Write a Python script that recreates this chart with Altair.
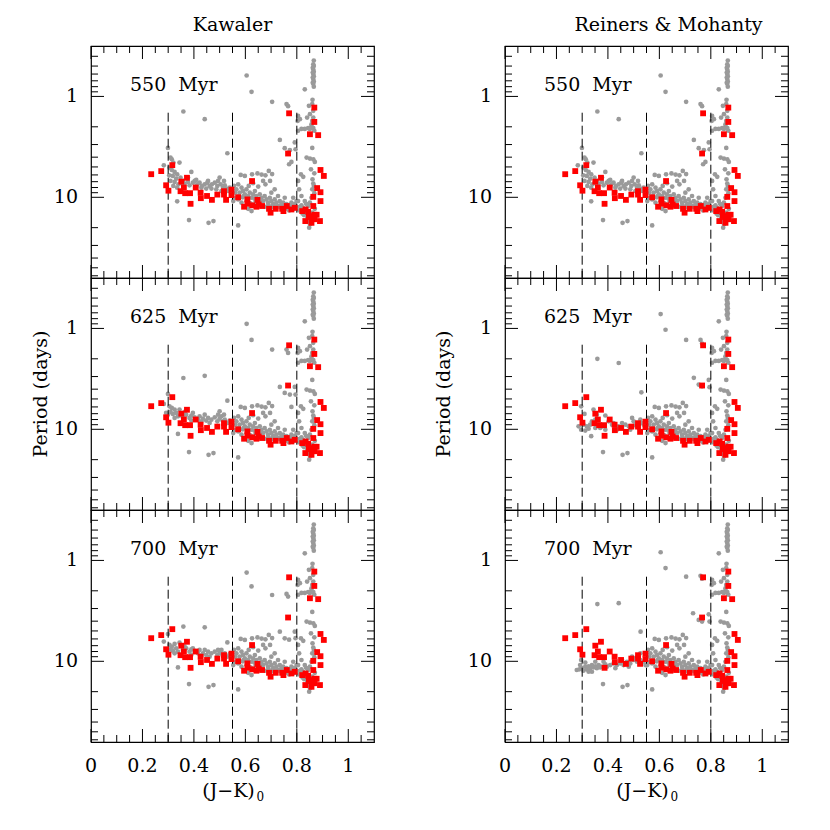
import altair as alt
import pandas as pd

FONT = "DejaVu Serif"
W, H = 283, 232

# ---------------- observed stars (red squares, same in every panel) -------------
red_jk = [0.234,0.273,0.316,0.292,0.301,0.351,0.373,0.361,0.348,0.366,
          0.385,0.407,0.387,0.426,0.427,0.451,0.470,0.491,0.517,0.517,
          0.546,0.546,0.525,0.572,0.626,0.595,0.608,0.608,0.627,0.647,
          0.652,0.643,0.665,0.692,0.698,0.718,0.743,0.748,0.761,0.770,
          0.766,0.779,0.792,0.821,0.834,0.833,0.847,0.851,0.868,0.868,
          0.883,0.864,0.864,0.868,0.855,0.857,0.877,0.892,0.905,0.879,
          0.892,0.892,0.890,0.844,0.869]
red_p = [5.9,5.5,4.8,7.6,8.6,7.0,6.4,8.0,8.7,9.1,
         9.1,8.0,11.6,9.0,10.2,9.7,10.6,9.4,8.7,9.4,
         8.4,9.5,10.6,10.0,6.9,12.4,10.5,11.6,12.0,10.6,
         11.8,12.4,12.2,13.0,14.2,13.0,13.0,13.7,12.2,1.47,
         3.68,13.2,12.7,13.7,13.2,17.2,15.3,2.37,1.29,1.79,
         2.42,9.9,12.2,14.9,15.7,17.9,14.9,5.36,6.14,8.1,
         8.9,10.9,17.2,13.9,16.5]

# ---------------- model stars shared by all panels (gray) ----------------
band_jk = [0.556,0.565,0.572,0.578,0.585,0.591,0.598,0.604,0.611,0.617,
           0.624,0.630,0.637,0.643,0.650,0.656,0.663,0.669,0.675,0.682,
           0.688,0.695,0.701,0.708,0.714,0.721,0.727,0.734,0.740,0.747,
           0.753,0.760,0.766,0.773,0.779,0.786,0.792,0.611,0.624,0.585,
           0.572,0.559,0.561,0.553,0.582,0.598,0.626,0.647,0.663,0.678,
           0.691,0.704,0.696,0.678,0.650,0.630,0.613,0.669,0.714,0.701,
           0.727,0.753,0.786,0.799,0.590,0.605,0.620,0.640,0.660,0.680,
           0.700,0.720,0.745,0.770,0.575,0.595,0.635,0.655,0.690,0.710,
           0.735,0.755,0.790]
band_p = [7.72,8.34,7.43,9.0,8.02,8.66,9.34,8.34,9.71,9.0,
          10.1,9.34,8.66,9.71,10.5,9.34,10.1,10.9,9.71,10.5,
          11.3,10.1,10.9,11.7,10.5,11.3,12.2,10.9,11.7,11.3,
          12.2,11.7,12.7,12.0,11.3,12.4,11.7,13.0,13.7,11.3,
          10.5,10.1,9.0,10.9,6.0,6.14,5.92,5.8,5.95,6.05,
          5.48,5.88,6.88,7.43,7.83,7.26,7.72,6.88,8.34,9.0,
          9.71,10.1,10.1,10.9,10.0,10.8,11.5,11.0,12.0,12.4,
          12.6,12.8,13.2,13.5,9.7,9.6,10.3,11.0,11.9,12.0,
          12.5,13.0,13.0]

right_jk = [0.805,0.818,0.809,0.805,0.816,0.825,0.818,0.831,0.844,0.851,
            0.831,0.838,0.857,0.844,0.848,0.860,0.870,0.860,0.838,0.851,
            0.864,0.870,0.855,0.868,0.861,0.864,0.866,0.860,0.868,0.857,
            0.810,0.822,0.840,0.852,0.812,0.825,0.836,0.828,0.842,0.850]
right_p = [10.9,9.71,8.34,6.88,5.92,6.26,12.0,10.9,12.2,11.3,
           13.2,14.2,16.6,17.2,20.0,14.2,13.0,3.24,4.04,4.13,
           4.2,4.46,5.28,5.78,6.63,7.3,7.72,8.34,9.1,10.1,
           13.5,14.5,15.5,18.5,12.4,12.8,11.6,15.0,16.0,14.8]

column_jk = [0.866,0.864,0.866,0.864,0.866,0.864,0.866,0.864,0.866,0.864,
             0.866,0.862,0.862,0.862,0.862,0.861,0.860,0.864,0.851,0.840,
             0.864,0.857,0.844,0.831,0.818,0.805,0.851,0.864,0.868,0.857,
             0.860,0.831,0.847,0.805,0.812,0.803,0.381,0.457,0.476,0.572]
column_p = [0.44,0.48,0.50,0.54,0.57,0.60,0.63,0.67,0.71,0.75,
            0.80,0.52,0.58,0.65,0.73,1.08,1.19,1.39,1.50,1.62,
            1.62,1.99,2.06,2.10,2.10,2.19,2.10,2.06,2.19,1.89,
            1.75,0.85,1.24,1.56,1.68,1.75,16.8,17.9,17.2,19.0]

# ---------------- panel-specific model stars ----------------
k550_jk = [0.283,0.299,0.309,0.314,0.320,0.305,0.314,0.325,0.304,0.318,
           0.335,0.344,0.331,0.309,0.325,0.340,0.351,0.320,0.335,0.357,
           0.364,0.377,0.390,0.383,0.396,0.403,0.413,0.422,0.431,0.442,
           0.452,0.461,0.470,0.481,0.491,0.500,0.504,0.513,0.520,0.526,
           0.533,0.539,0.546,0.507,0.487,0.468,0.448,0.429,0.409,0.335,
           0.517,0.494,0.455,0.409,0.377,0.348,
           0.605,0.624,0.359,0.442,0.530,0.704,0.760,0.766,0.734,0.753,
           0.773,0.792,0.795,0.779,0.770]
k550_p = [4.82,3.24,4.04,4.20,4.53,5.08,5.36,5.6,6.05,6.14,
          5.92,4.53,6.53,6.88,7.04,7.43,7.16,7.72,8.02,6.88,
          7.3,7.04,5.6,7.6,7.16,6.88,7.43,7.16,7.72,7.43,
          7.16,7.72,7.43,7.16,7.72,6.38,7.43,8.02,7.6,8.2,
          8.66,8.02,8.85,8.66,8.34,8.2,8.2,8.02,7.85,10.95,
          6.88,6.88,6.88,6.73,6.38,6.38,
          0.62,0.90,1.41,1.68,3.66,1.13,1.19,1.25,2.70,3.26,
          3.41,2.86,3.34,4.46,4.70]

k625_jk = [0.299,0.283,0.305,0.314,0.325,0.309,0.318,0.331,0.338,0.325,
           0.348,0.357,0.370,0.383,0.390,0.403,0.416,0.422,0.435,0.448,
           0.455,0.468,0.481,0.491,0.500,0.507,0.513,0.520,0.530,0.539,
           0.546,0.338,0.299,0.292,0.344,0.364,0.396,0.442,0.494,0.461,
           0.429,0.390,0.500,0.517,
           0.605,0.624,0.359,0.442,0.530,0.704,0.760,0.766,0.734,0.753,
           0.773,0.792,0.795,0.779]
k625_p = [4.46,5.6,5.92,6.14,6.38,6.73,7.04,6.88,7.43,7.72,
          7.16,7.6,7.16,7.72,7.3,7.6,8.02,7.43,7.85,8.2,
          7.72,8.02,7.6,8.34,7.85,7.43,8.34,8.02,8.66,8.2,
          9.0,11.1,7.16,6.88,6.38,6.73,6.88,7.16,7.16,8.66,
          8.34,8.2,6.63,7.16,
          0.90,1.30,3.1,2.95,5.2,1.62,1.62,1.75,3.8,4.36,
          4.53,3.8,4.53,6.0]

k700_jk = [0.299,0.283,0.305,0.314,0.325,0.309,0.318,0.331,0.338,0.325,
           0.348,0.357,0.370,0.383,0.390,0.403,0.416,0.422,0.435,0.448,
           0.455,0.468,0.481,0.491,0.500,0.507,0.513,0.520,0.530,0.539,
           0.546,0.338,0.301,0.344,0.364,0.396,0.442,0.494,0.461,0.429,
           0.390,0.504,
           0.605,0.624,0.359,0.442,0.530,0.704,0.760,0.766,0.734,0.753,
           0.770,0.792,0.795]
k700_p = [5.36,6.38,6.88,7.16,6.73,7.6,7.85,7.43,8.02,8.34,
          6.88,7.72,7.43,8.02,7.6,8.02,8.34,7.72,8.34,8.66,
          8.02,8.34,8.02,8.66,8.2,7.72,8.85,8.34,9.0,8.5,
          9.34,11.5,8.34,6.53,7.16,7.43,7.72,7.72,9.0,8.85,
          8.66,8.34,
          1.32,1.81,4.53,4.6,6.5,2.2,2.15,2.28,5.08,5.92,
          6.1,5.08,5.9]

r550_jk = list(k550_jk)
r550_p = list(k550_p)

r625_jk = [0.296,0.286,0.296,0.305,0.312,0.318,0.325,0.331,0.338,0.344,
           0.351,0.364,0.377,0.390,0.403,0.416,0.429,0.442,0.455,0.468,
           0.481,0.494,0.500,0.507,0.520,0.530,0.539,0.546,0.335,0.390,
           0.455,0.487,0.513,0.526,0.351,0.370,0.422,0.435,0.309,0.357,
           0.605,0.624,0.359,0.442,0.530,0.704,0.760,0.766,0.734,0.753,
           0.766,0.792,0.795]
r625_p = [5.92,9.34,10.1,9.0,10.3,9.34,9.85,9.0,8.34,6.38,
          8.02,9.0,9.34,7.3,8.34,9.0,9.71,9.34,9.71,9.0,
          9.34,7.72,8.34,9.13,9.71,8.66,9.0,9.71,11.7,10.1,
          8.66,10.1,8.66,8.02,9.71,9.71,8.66,10.1,7.04,7.16,
          0.72,1.03,2.0,2.2,4.3,1.30,1.30,1.41,3.09,3.60,
          3.75,3.24,3.82]

r700_jk = [0.279,0.289,0.299,0.305,0.312,0.318,0.325,0.331,0.338,0.344,
           0.351,0.357,0.364,0.377,0.390,0.396,0.409,0.422,0.435,0.448,
           0.461,0.474,0.487,0.500,0.513,0.526,0.539,0.546,0.338,0.296,
           0.351,0.383,0.455,0.494,0.507,0.526,0.481,0.429,0.292,0.325,
           0.312,0.370,
           0.605,0.624,0.359,0.442,0.527,0.704,0.760,0.766,0.731,0.753,
           0.766,0.792,0.795]
r700_p = [12.2,12.0,11.7,12.4,11.3,12.0,11.2,11.7,10.9,11.5,
          11.2,11.7,10.9,11.3,10.7,11.3,10.9,10.5,10.9,10.5,
          10.9,10.1,10.5,9.71,10.1,9.71,10.1,10.9,12.7,9.71,
          10.1,10.1,9.71,9.0,9.34,8.34,11.3,11.7,10.9,12.7,
          10.3,11.5,
          0.83,1.19,2.71,2.65,5.08,1.45,1.42,1.52,3.34,3.89,
          4.04,3.42,4.04]

ages = ["550\u00a0 Myr", "625\u00a0 Myr", "700\u00a0 Myr"]
col_titles = ["Kawaler", "Reiners & Mohanty"]
x_title = "(J\u2212K)"
x_title_sub = "0"
y_title = "Period (days)"

dash_jk = [0.3, 0.55, 0.8]
dash_top = 1.45
x_label_vals = [0, 0.2, 0.4, 0.6, 0.8, 1]
x_label_txt = ["0", "0.2", "0.4", "0.6", "0.8", "1"]
y_label_vals = [1, 10]
y_label_txt = ["1", "10"]
x_major = [0, 0.2, 0.4, 0.6, 0.8, 1.0]
x_minor = [0.05, 0.1, 0.15, 0.25, 0.3, 0.35, 0.45, 0.5, 0.55, 0.65, 0.7, 0.75,
           0.85, 0.9, 0.95, 1.05]
y_major = [1, 10]
y_minor = [0.4, 0.5, 0.6, 0.7, 0.8, 0.9, 2, 3, 4, 5, 6, 7, 8, 9, 20, 30, 40, 50, 60]

Y_LO, Y_HI = 10 ** -0.5, 10 ** 1.8
xs = alt.Scale(domain=[0, 1.1], nice=False, zero=False)
ys = alt.Scale(type="log", domain=[Y_LO, Y_HI], reverse=True, nice=False)

MAJ, MIN = 13, 7
FS = 19
TXT = dict(font=FONT, fontSize=FS, color="black")


def X(f):
    return alt.X(f, scale=xs, axis=None)


def Y(f):
    return alt.Y(f, scale=ys, axis=None)


def xticks(vals, L):
    base = alt.Chart(pd.DataFrame({"v": vals})).mark_rule(color="black", strokeWidth=1)
    top = base.encode(x=X("v:Q"), y=alt.value(0), y2=alt.value(L))
    bot = base.encode(x=X("v:Q"), y=alt.value(H), y2=alt.value(H - L))
    return [top, bot]


def yticks(vals, L):
    base = alt.Chart(pd.DataFrame({"v": vals})).mark_rule(color="black", strokeWidth=1)
    left = base.encode(y=Y("v:Q"), x=alt.value(0), x2=alt.value(L))
    right = base.encode(y=Y("v:Q"), x=alt.value(W), x2=alt.value(W - L))
    return [left, right]


def single_text(t, size=FS, **kw):
    return alt.Chart(pd.DataFrame({"t": [t]})).mark_text(
        font=FONT, fontSize=size, color="black", **kw).encode(text="t:N")


def panel(own_jk, own_p, row, col):
    gjk = band_jk + right_jk + column_jk + own_jk
    gp = band_p + right_p + column_p + own_p
    gray_df = pd.DataFrame({"jk": gjk, "p": gp})
    red_df = pd.DataFrame({"jk": red_jk, "p": red_p})

    gray = alt.Chart(gray_df).mark_circle(size=22, color="#9a9a9a", opacity=1).encode(
        x=X("jk:Q"), y=Y("p:Q"))
    red = alt.Chart(red_df).mark_square(size=34, color="#ff0000", opacity=1).encode(
        x=X("jk:Q"), y=Y("p:Q"))
    dash_df = pd.DataFrame({"jk": dash_jk, "top": [dash_top] * 3, "bot": [Y_HI] * 3})
    dashed = alt.Chart(dash_df).mark_rule(color="black", strokeWidth=1, strokeDash=[9, 4]).encode(
        x=X("jk:Q"), y=Y("top:Q"), y2="bot:Q")
    label = single_text(ages[row], align="left", baseline="alphabetic").encode(
        x=alt.value(39), y=alt.value(45))

    ylab = alt.Chart(pd.DataFrame({"v": y_label_vals, "t": y_label_txt})).mark_text(
        align="right", baseline="middle", **TXT).encode(
        y=Y("v:Q"), x=alt.value(-13), text="t:N")

    layers = [gray, dashed, red] + xticks(x_major, MAJ) + xticks(x_minor, MIN) \
        + yticks(y_major, MAJ) + yticks(y_minor, MIN) + [label, ylab]

    if row == 2:
        xlab = alt.Chart(pd.DataFrame({"v": x_label_vals, "t": x_label_txt})).mark_text(
            align="center", baseline="middle", **TXT).encode(
            x=X("v:Q"), y=alt.value(H + 24), text="t:N")
        xtit = single_text(x_title, align="center", baseline="middle").encode(
            x=alt.value(W / 2 - 4), y=alt.value(H + 49))
        xsub = single_text(x_title_sub, size=12, align="left", baseline="middle").encode(
            x=alt.value(W / 2 + 24), y=alt.value(H + 55))
        layers += [xlab, xtit, xsub]
    if row == 1:
        ytit = single_text(y_title, align="center", baseline="middle", angle=270).encode(
            x=alt.value(-50 if col == 0 else -61), y=alt.value(H / 2))
        layers += [ytit]
    if row == 0:
        ctit = single_text(col_titles[col], align="center", baseline="middle").encode(
            x=alt.value(W / 2 + (0 if col == 0 else 22)), y=alt.value(-21))
        layers += [ctit]

    return alt.layer(*layers).properties(width=W, height=H)


panels = [
    panel(k550_jk, k550_p, 0, 0), panel(r550_jk, r550_p, 0, 1),
    panel(k625_jk, k625_p, 1, 0), panel(r625_jk, r625_p, 1, 1),
    panel(k700_jk, k700_p, 2, 0), panel(r700_jk, r700_p, 2, 1),
]

chart = alt.concat(*panels, columns=2, spacing={"row": 0, "column": 131},
                   bounds="flush").properties(
    padding={"left": 23, "top": 7, "right": 5, "bottom": 5}
).configure_view(stroke="black", strokeWidth=1.2)

chart.save("out.html", embed_options={"renderer": "svg", "actions": False})
